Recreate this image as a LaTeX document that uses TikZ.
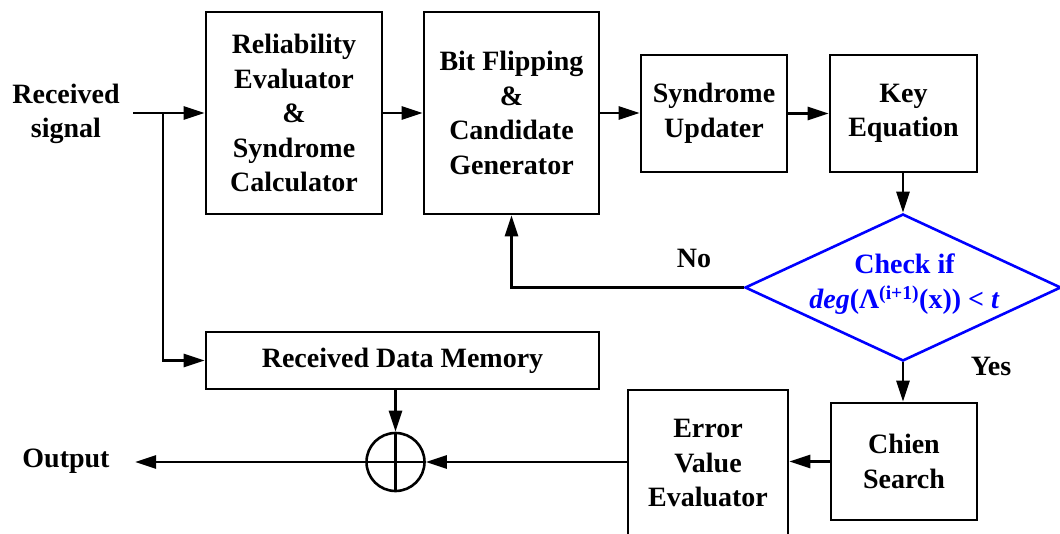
\documentclass[tikz,border=0pt]{standalone}
\usepackage{fontspec}
\setmainfont{Liberation Serif}
\usetikzlibrary{arrows.meta,shapes.geometric}
\begin{document}
\begin{tikzpicture}[x=1pt,y=-1pt,
  blk/.style={draw, line width=2.6pt, font=\bfseries\fontsize{28}{34.5}\selectfont, align=center, inner sep=0pt},
  lbl/.style={font=\bfseries\fontsize{28}{34.5}\selectfont, align=center, inner sep=0pt},
  conn/.style={line width=2.6pt, -{Triangle[length=21pt,width=13pt]}},
  wire/.style={line width=2.6pt}]
\useasboundingbox (0,0) rectangle (1060,533);
\clip (0,0) rectangle (1060,533);
\node[blk, minimum width=176pt, minimum height=202pt] (rel) at (294,113) {Reliability\\Evaluator\\\&\\Syndrome\\Calculator};
\node[blk, minimum width=175pt, minimum height=202pt] (bf) at (511.5,113) {Bit Flipping\\\&\\Candidate\\Generator};
\node[blk, minimum width=146pt, minimum height=117pt] (syn) at (714,113.5) {Syndrome\\Updater};
\node[blk, minimum width=147pt, minimum height=117pt] (key) at (903.5,113.5) {Key\\Equation};
\node[diamond, draw=blue, line width=2.6pt, minimum width=316pt, minimum height=147pt, inner sep=0pt] (chk) at (903,287.5) {};
\node[lbl, text=blue] (chktxt) at (904.5,284) {Check if\\\textit{deg}(Λ\textsuperscript{(i+1)}(x)) < \textit{t}};
\node[blk, minimum width=393pt, minimum height=57pt] (rdm) at (402.5,360.5) {Received Data Memory};
\node[blk, minimum width=146pt, minimum height=117pt] (chien) at (904,461.5) {Chien\\Search};
\node[blk, minimum width=160pt, minimum height=146pt] (err) at (708,463) {Error\\Value\\Evaluator};
\node[circle, draw, line width=2.6pt, minimum size=58pt, inner sep=0pt] (add) at (395.5,462) {};
\node[lbl] (rs) at (66,114) {Received\\signal};
\node[lbl, anchor=base] (out) at (66,467) {Output};
\node[lbl, anchor=base] (no) at (694,267) {No};
\node[lbl, anchor=base] (yes) at (991,375) {Yes};
\coordinate (in) at (133,113);
\coordinate (br) at (163,113);
\coordinate (outend) at (135,462);
\draw[conn] (in) -- (rel.west);
\draw[conn] (br) |- (rdm.west);
\draw[conn] (rel.east) -- (rel.east -| bf.west);
\draw[conn] (bf.east) -- (bf.east -| syn.west);
\draw[conn] (syn.east) -- (key.west);
\draw[conn] (key.south -| chk.north) -- (chk.north);
\draw[conn] (chk.west) -| (bf.south);
\draw[conn] (chk.south) -- (chk.south |- chien.north);
\draw[conn] (chien.west) -- (chien.west -| err.east);
\draw[conn] (err.west |- add.east) -- (add.east);
\draw[conn] (add.north |- rdm.south) -- (add.north);
\draw[wire] (add.north) -- (add.south) (add.west) -- (add.east);
\draw[conn] (add.west) -- (outend);
\end{tikzpicture}
\end{document}
